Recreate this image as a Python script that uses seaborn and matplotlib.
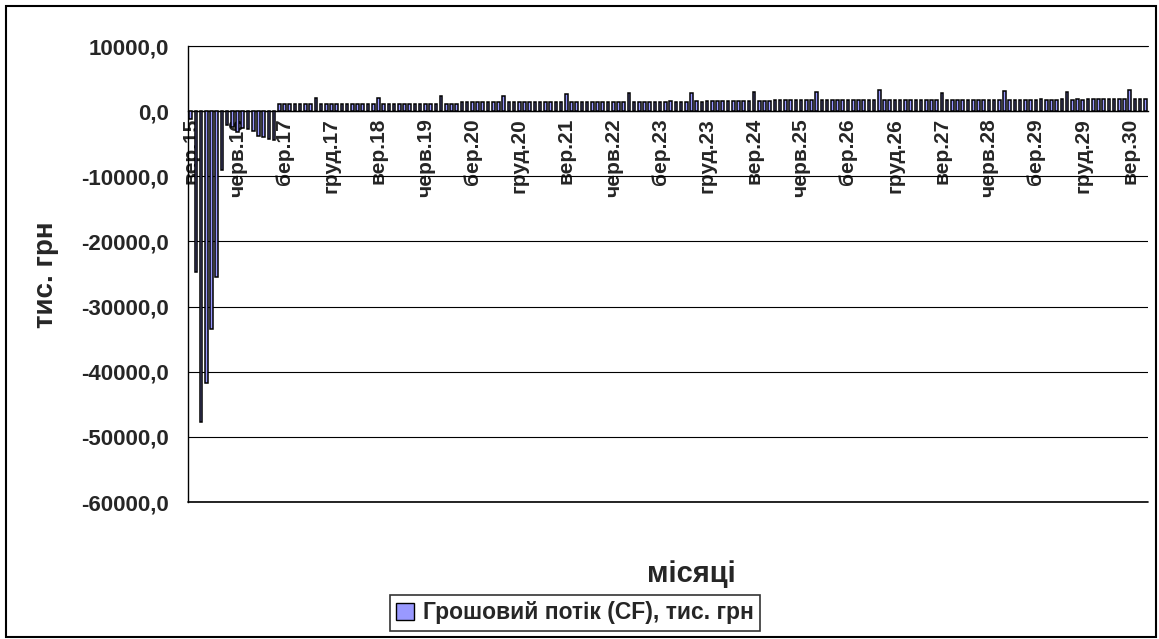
import numpy as np
import pandas as pd
import seaborn as sns
import matplotlib.pyplot as plt
from matplotlib.patches import Patch, Rectangle
from matplotlib.ticker import FuncFormatter

MONTHS = ["січ", "лют", "бер", "квіт", "трав", "черв", "лип", "серп", "вер", "жовт", "лист", "груд"]
YEARS = list(range(2015, 2031))

# cash flow per month, thousand UAH (2015 starts in September)
cf_2015 = [-1200, -24700, -47700, -41700]
cf_2016 = [-33500, -25500, -9000, -2200, -2400, -3200, -2600, -2800, -3000, -3800, -3900, -4200]
cf_2017 = [-4500, 1050, 1060, 1050, 1070, 1060, 1050, 1060, 2000, 1070, 1060, 1070]
cf_2018 = [1070, 1080, 1070, 1080, 1070, 1080, 1090, 1080, 2020, 1090, 1080, 1090]
cf_2019 = [1100, 1090, 1100, 1110, 1100, 1120, 1110, 1100, 2300, 1120, 1110, 1120]
cf_2020 = [1370, 1380, 1370, 1380, 1390, 1380, 1370, 1380, 2300, 1390, 1380, 1390]
cf_2021 = [1390, 1400, 1390, 1400, 1410, 1400, 1390, 1400, 2600, 1410, 1400, 1410]
cf_2022 = [1410, 1420, 1410, 1420, 1430, 1420, 1410, 1420, 2860, 1430, 1420, 1430]
cf_2023 = [1470, 1480, 1470, 1480, 1490, 1480, 1470, 1480, 2860, 1490, 1480, 1490]
cf_2024 = [1500, 1510, 1500, 1520, 1510, 1500, 1510, 1520, 3000, 1510, 1520, 1510]
cf_2025 = [1700, 1720, 1710, 1730, 1720, 1710, 1720, 1730, 3000, 1720, 1730, 1720]
cf_2026 = [1730, 1740, 1730, 1750, 1740, 1730, 1740, 1750, 3270, 1740, 1750, 1740]
cf_2027 = [1690, 1700, 1690, 1710, 1700, 1690, 1700, 1710, 2750, 1700, 1710, 1700]
cf_2028 = [1710, 1720, 1710, 1730, 1720, 1710, 1720, 1730, 3060, 1720, 1730, 1720]
cf_2029 = [1770, 1780, 1770, 1790, 1780, 1770, 1780, 1790, 2960, 1780, 1790, 1780]
cf_2030 = [1830, 1840, 1830, 1850, 1840, 1830, 1840, 1850, 3300, 1840, 1850, 1840]

cash_flow = (cf_2015 + cf_2016 + cf_2017 + cf_2018 + cf_2019 + cf_2020 + cf_2021 + cf_2022
             + cf_2023 + cf_2024 + cf_2025 + cf_2026 + cf_2027 + cf_2028 + cf_2029 + cf_2030)
months = [f"{MONTHS[m]}.{y % 100:02d}" for y in YEARS for m in range(12)][8:]
LABEL_STEP = 9

df = pd.DataFrame({"month": months, "cf": cash_flow})

sns.set_style("white")
plt.rcParams["font.family"] = ["Liberation Sans", "DejaVu Sans"]
plt.rcParams["font.weight"] = "bold"

W, H = 1159, 639
fig = plt.figure(figsize=(W / 100, H / 100), dpi=100)
ax = fig.add_axes([188 / W, 1 - 502 / H, 960 / W, 456 / H])

sns.barplot(data=df, x="month", y="cf", order=months, ax=ax, color="#9999FF",
            saturation=1, width=0.5, edgecolor="black", linewidth=1.1, zorder=3)

n = len(months)
ax.set_xlim(-0.5, n - 0.5)
ax.set_ylim(-60000, 10000)
ax.set_yticks(range(-60000, 10001, 10000))
ax.yaxis.set_major_formatter(FuncFormatter(lambda v, p: f"{v:.1f}".replace(".", ",")))
ax.yaxis.grid(True, color="black", lw=0.8)
ax.set_axisbelow(True)
ax.axhline(-60000, color="black", lw=1.2, clip_on=False, zorder=0.5)
ax.axhline(10000, color="black", lw=0.8, clip_on=False, zorder=0.5)

for side in ["top", "right"]:
    ax.spines[side].set_visible(False)
ax.spines["left"].set_color("black")
ax.spines["left"].set_linewidth(1.0)
ax.spines["bottom"].set_position(("data", 0))
ax.spines["bottom"].set_color("black")
ax.spines["bottom"].set_linewidth(1.0)

pos = list(range(0, n, LABEL_STEP))
ax.set_xticks(pos)
ax.set_xticklabels([months[i] for i in pos], rotation=90, fontsize=15, fontweight="bold")
ax.set_xticks(np.arange(-0.5, n, 1), minor=True)
ax.tick_params(axis="x", which="major", length=0, pad=5)
ax.tick_params(axis="x", which="minor", length=4.5, width=0.8, color="black", direction="out")
ax.tick_params(axis="y", length=6, width=1.0, color="black", direction="out", pad=8, labelsize=16)
for t in ax.get_yticklabels():
    t.set_fontweight("bold")
ax.set_xlabel("")
ax.set_ylabel("")

fig.text(691 / W, 1 - 574 / H, "місяці", ha="center", va="center", fontsize=21, fontweight="bold")
fig.text(46 / W, 1 - 275 / H, "тис. грн", ha="center", va="center", rotation=90,
         fontsize=20, fontweight="bold")

handle = Patch(facecolor="#9999FF", edgecolor="black", label="Грошовий потік (CF), тис. грн")
leg = fig.legend(handles=[handle], loc="center", bbox_to_anchor=(575 / W, 1 - 613 / H),
                 frameon=True, fancybox=False, edgecolor="black", fontsize=16.5,
                 handlelength=0.75, handleheight=0.75, handletextpad=0.4, borderpad=0.3,
                 borderaxespad=0)
leg.get_frame().set_linewidth(1.2)
for t in leg.get_texts():
    t.set_fontweight("bold")

fig.add_artist(Rectangle((6 / W, 2 / H), 1150 / W, 631 / H, transform=fig.transFigure,
                         fill=False, edgecolor="black", lw=1.5))

fig.savefig("out.png", dpi=100)
